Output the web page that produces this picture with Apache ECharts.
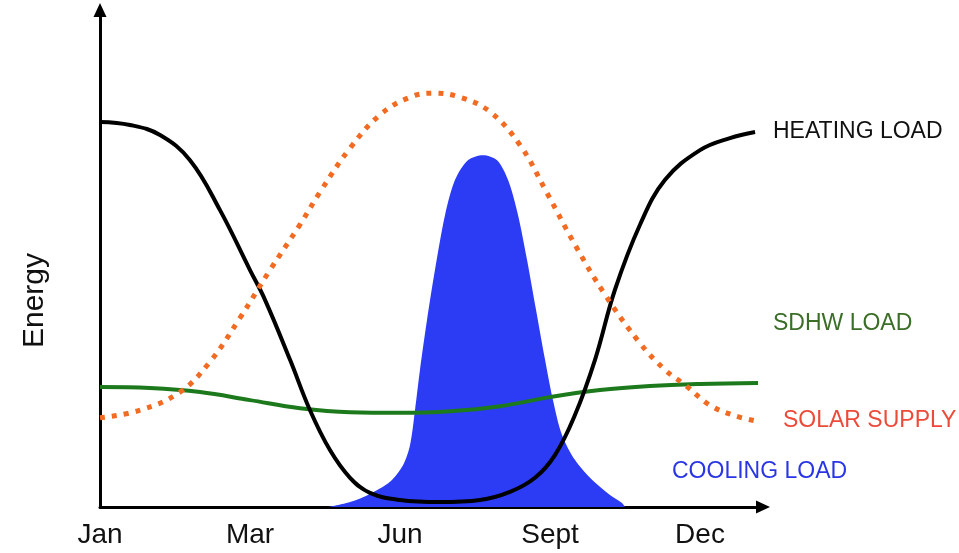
<!DOCTYPE html>
<html>
<head>
<meta charset="utf-8">
<script src="https://cdn.jsdelivr.net/npm/echarts@6/dist/echarts.min.js"></script>
<style>html,body{margin:0;padding:0;background:#fff}#c{width:959px;height:553px}</style>
</head>
<body>
<div id="c"></div>
<script>
// Month tick labels (evenly spaced positions 0..4)
var monthLabels = ['Jan', 'Mar', 'Jun', 'Sept', 'Dec'];
var yAxisTitle = 'Energy';

// [position, energy] pairs
var heatingLoad = [[0,76.4],[0.2,75.8],[0.4,73.8],[0.6,68.8],[0.8,58.9],[1.0,47.0],[1.1,41.1],[1.267,29.2],[1.4,19.2],[1.533,11.3],[1.667,5.8],[1.8,2.8],[2.0,1.4],[2.267,1.0],[2.533,1.4],[2.733,3.0],[2.9,5.8],[3.033,10.3],[3.167,18.3],[3.3,29.2],[3.433,43.1],[3.6,56.0],[3.767,64.9],[4.0,70.8],[4.2,73.2],[4.367,74.4]];
var solarSupply = [[0,17.7],[0.267,19.2],[0.533,22.8],[0.733,28.8],[0.933,37.5],[1.133,47.0],[1.333,56.0],[1.467,62.5],[1.667,71.2],[1.867,77.8],[2.067,81.3],[2.22,82.1],[2.4,81.3],[2.6,78.4],[2.8,71.8],[2.98,62.3],[3.167,52.0],[3.367,42.1],[3.6,32.5],[3.767,27.2],[3.9,24.2],[4.067,20.2],[4.233,18.1],[4.4,16.9]];
var sdhwLoad = [[0,23.8],[0.333,23.6],[0.667,22.8],[1.0,21.2],[1.333,19.6],[1.667,18.8],[2.0,18.7],[2.333,19.0],[2.667,20.0],[3.0,21.8],[3.333,23.2],[3.667,24.0],[4.0,24.4],[4.387,24.6]];
var coolingLoad = [[1.52,0],[1.667,1.0],[1.8,2.6],[1.933,5.0],[2.02,8.3],[2.067,12.3],[2.1,19.2],[2.133,27.2],[2.18,37.1],[2.233,47.0],[2.3,57.9],[2.367,64.9],[2.453,68.8],[2.553,69.8],[2.647,68.8],[2.72,64.9],[2.787,57.9],[2.847,49.0],[2.907,39.1],[2.967,29.2],[3.02,21.2],[3.08,14.3],[3.167,9.3],[3.28,5.4],[3.4,2.4],[3.48,0.8],[3.5,0]];

var seriesNames = ['HEATING LOAD', 'SDHW LOAD', 'SOLAR SUPPLY', 'COOLING LOAD'];

var chart = echarts.init(document.getElementById('c'), null, {renderer: 'canvas'});
var FONT = '"Liberation Sans", Arial, sans-serif';
chart.setOption({
  animation: false,
  backgroundColor: '#ffffff',
  grid: {left: 100, right: 196, top: 10, bottom: 46, containLabel: false},
  xAxis: {
    type: 'value', min: 0, max: 4.42, interval: 1,
    axisLine: {show: true, symbol: ['none', 'triangle'], symbolSize: [13, 14], lineStyle: {color: '#000', width: 3}},
    axisTick: {show: false}, splitLine: {show: false},
    axisLabel: {
      margin: 14, color: '#111', fontSize: 28, fontFamily: FONT, showMaxLabel: false,
      formatter: function (v) { return Number.isInteger(v) && monthLabels[v] !== undefined ? monthLabels[v] : ''; }
    }
  },
  yAxis: {
    type: 'value', min: 0, max: 98.6,
    name: yAxisTitle, nameLocation: 'middle', nameRotate: 90, nameGap: 50,
    nameTextStyle: {fontSize: 30, fontFamily: FONT, color: '#111', padding: [0, 84, 0, 0]},
    axisLine: {show: true, symbol: ['none', 'triangle'], symbolSize: [13, 14], lineStyle: {color: '#000', width: 3}},
    axisTick: {show: false}, splitLine: {show: false}, axisLabel: {show: false}
  },
  series: [
    {name: seriesNames[3], type: 'line', data: coolingLoad, smooth: 0.3, symbol: 'none',
     lineStyle: {width: 0, color: '#2b3cf4'}, areaStyle: {color: '#2b3cf4', opacity: 1}, z: 1},
    {name: seriesNames[1], type: 'line', data: sdhwLoad, smooth: 0.4, symbol: 'none',
     lineStyle: {width: 4, color: '#1c7a1c'}, z: 2},
    {name: seriesNames[0], type: 'line', data: heatingLoad, smooth: 0.4, symbol: 'none',
     lineStyle: {width: 4, color: '#000000'}, z: 3},
    {name: seriesNames[2], type: 'line', data: solarSupply, smooth: 0.4, symbol: 'none',
     lineStyle: {width: 5, color: '#f26b22', type: [5, 7], cap: 'butt'}, z: 4}
  ],
  graphic: [
    {type: 'text', left: 773, top: 120, style: {text: seriesNames[0], fill: '#111', font: '23px ' + FONT}},
    {type: 'text', left: 773, top: 312, style: {text: seriesNames[1], fill: '#3b6e28', font: '23px ' + FONT}},
    {type: 'text', left: 783, top: 409, style: {text: seriesNames[2], fill: '#ee4a3a', font: '23px ' + FONT}},
    {type: 'text', left: 672, top: 460, style: {text: seriesNames[3], fill: '#2a36e6', font: '23px ' + FONT}}
  ]
});
</script>
</body>
</html>
